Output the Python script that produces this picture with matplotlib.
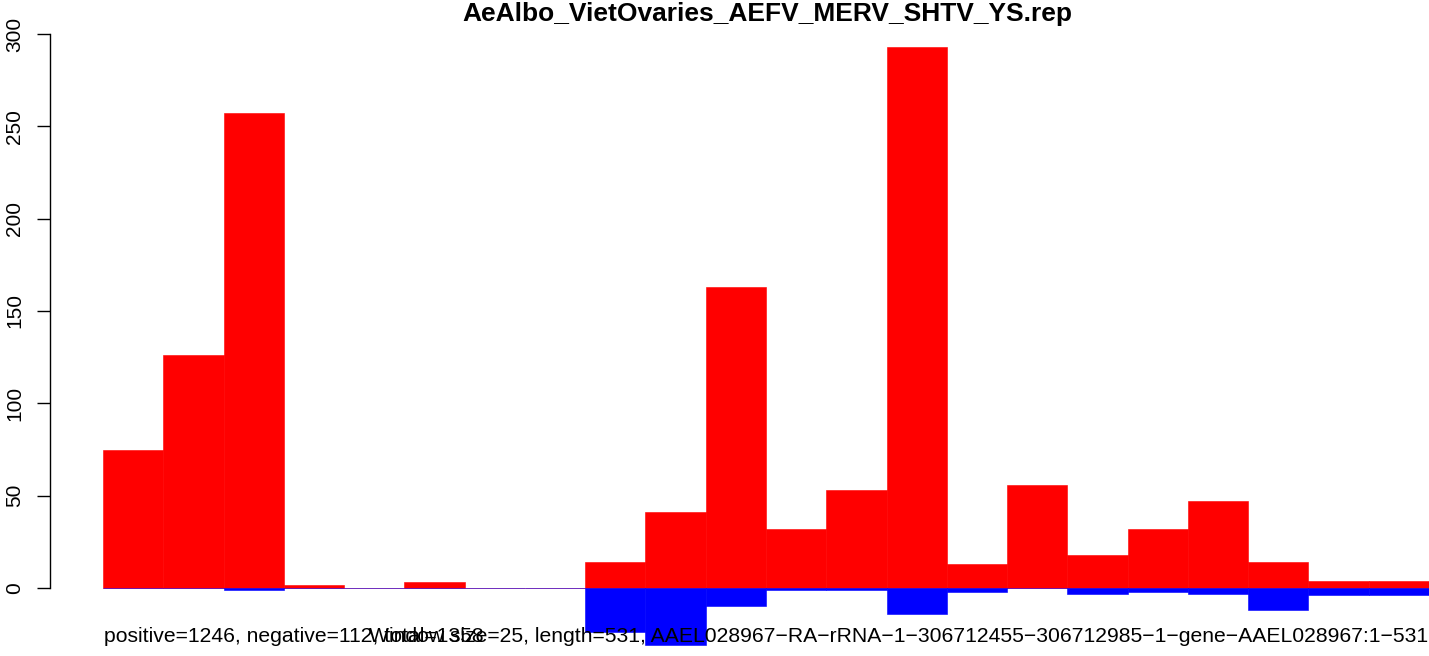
import matplotlib
matplotlib.use("Agg")
import matplotlib.pyplot as plt
import numpy as np

plt.rcParams['font.family'] = ['Liberation Sans', 'DejaVu Sans']

title = "AeAlbo_VietOvaries_AEFV_MERV_SHTV_YS.rep"
positive = [75, 126, 257, 1.5, 0, 3, 0, 0, 14, 41, 163, 32, 53, 293, 13, 56, 18, 32, 47, 14, 4, 4]
negative = [0, 0, -1, 0, 0, 0, 0, 0, -24, -31, -10, -1, -1, -14, -2, 0, -3, -2, -3, -12, -4, -4]
yticks = [0, 50, 100, 150, 200, 250, 300]
summary_text = "positive=1246, negative=112, total=1358"
info_text = ("Window size=25, length=531, AAEL028967\u2212RA\u2212rRNA\u22121\u2212306712455"
             "\u2212306712985\u22121\u2212gene\u2212AAEL028967:1\u2212531")

W, H = 1429, 656
dpi = 100
fig = plt.figure(figsize=(W / dpi, H / dpi), dpi=dpi)

ylo, yhi = -40, 305
ppu = (588 - 34) / 300.0
ax_left, ax_right = 50, 1482
ax_top = 34 - (yhi - 300) * ppu
ax_bot = 588 + (0 - ylo) * ppu
ax = fig.add_axes([ax_left / W, (H - ax_bot) / H, (ax_right - ax_left) / W, (ax_bot - ax_top) / H])

n = len(positive)
x = np.arange(n)
ax.bar(x, positive, width=1.0, align='edge', color='#ff0000', edgecolor='#ff0000', linewidth=0.4)
ax.bar(x, negative, width=1.0, align='edge', color='#0000ff', edgecolor='#0000ff', linewidth=0.4)

ax.set_xlim(-0.04 * n, n * 1.04)
ax.set_ylim(ylo, yhi)

for s in ['top', 'right', 'bottom']:
    ax.spines[s].set_visible(False)
ax.spines['left'].set_bounds(0, 300)
ax.spines['left'].set_linewidth(1.0)
ax.set_xticks([])
ax.set_yticks(yticks)
ax.set_yticklabels([str(v) for v in yticks], rotation=90, va='center', fontsize=15)
ax.tick_params(axis='y', length=9.5, width=1.0, pad=9)

fig.text(767 / W, 1 - 14 / H, title, ha='center', va='center', fontsize=19, fontweight='bold')
fig.text(104 / W, 1 - 637 / H, summary_text, ha='left', va='center', fontsize=15.2)
fig.text(1428 / W, 1 - 637 / H, info_text, ha='right', va='center', fontsize=15.2)

fig.savefig("out.png", dpi=dpi)
